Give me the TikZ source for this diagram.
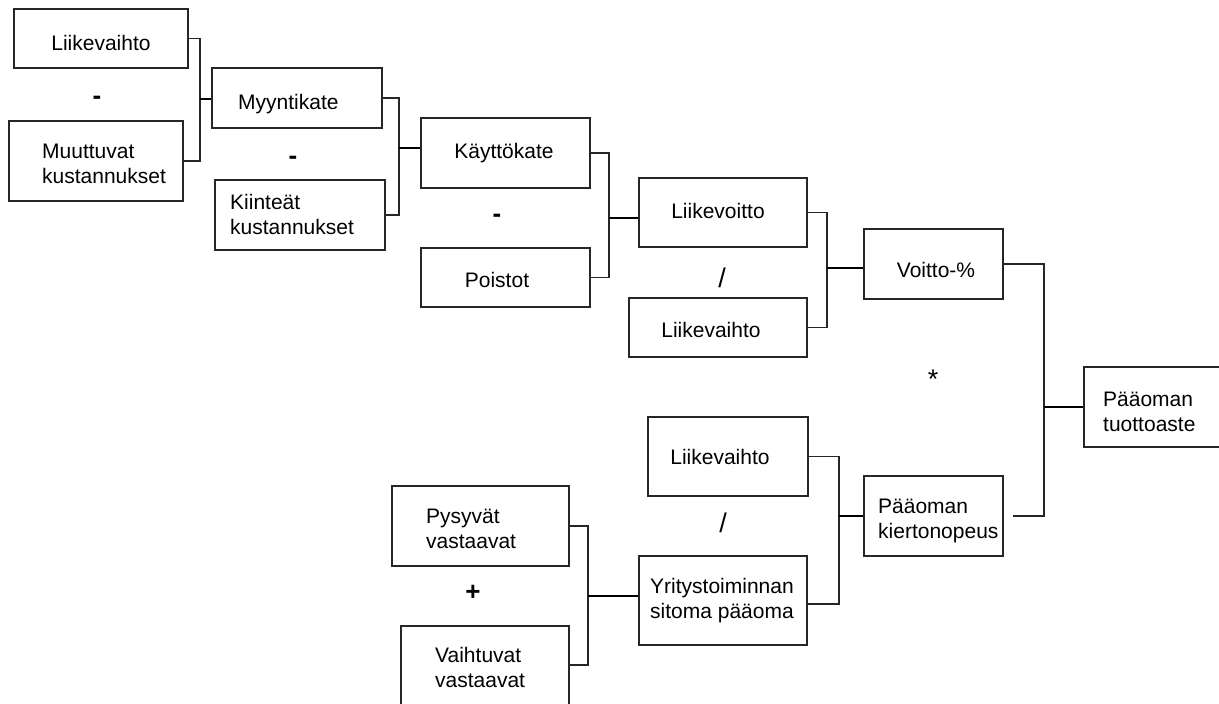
\documentclass[tikz,border=0pt]{standalone}
\usepackage{fontspec}
\setmainfont{Liberation Sans}
\begin{document}
\begin{tikzpicture}[x=1pt,y=-1pt,
  box/.style={draw=black!85,line width=1.2pt,rectangle,inner sep=0pt},
  txt/.style={inner sep=0pt,font=\fontsize{21}{25}\selectfont,align=left},
  ctxt/.style={inner sep=0pt,font=\fontsize{21}{25}\selectfont,align=center},
  op/.style={inner sep=0pt,font=\fontsize{26}{30}\selectfont\bfseries},
  opr/.style={inner sep=0pt,font=\fontsize{27}{30}\selectfont},
  conn/.style={draw=black!85,line width=1.1pt},
  stub/.style={draw=black,line width=2pt}]
\useasboundingbox (0,0) rectangle (1219,704);
\clip (0,0) rectangle (1219,704);
% boxes
\node[box,minimum width=174,minimum height=59] (lv1) at (101,38.5) {};
\node[box,minimum width=174,minimum height=80] (mk1) at (96,161) {};
\node[box,minimum width=170,minimum height=60] (myy) at (297,98) {};
\node[box,minimum width=170,minimum height=70] (kii) at (300,215) {};
\node[box,minimum width=169,minimum height=70] (kay) at (505.5,153) {};
\node[box,minimum width=169,minimum height=59] (poi) at (505.5,277.5) {};
\node[box,minimum width=168,minimum height=69] (lvo) at (723,212.5) {};
\node[box,minimum width=178,minimum height=59] (lv2) at (718,327.5) {};
\node[box,minimum width=139,minimum height=70] (voi) at (933.5,264) {};
\node[box,minimum width=156,minimum height=80] (tuo) at (1162,407) {};
\node[box,minimum width=139,minimum height=80] (kie) at (933.5,516) {};
\node[box,minimum width=160,minimum height=79] (lv3) at (728,456.5) {};
\node[box,minimum width=168,minimum height=89] (yri) at (723,600.5) {};
\node[box,minimum width=177,minimum height=80] (pys) at (480.5,526) {};
\node[box,minimum width=168,minimum height=114] (vai) at (485,683) {};
% texts (base anchor = baseline of the last line)
\node[ctxt,anchor=base] (t-lv1) at (101,50) {Liikevaihto};
\node[txt,anchor=base west] (t-mk1) at (42,183) {Muuttuvat\\kustannukset};
\node[txt,anchor=base west] (t-myy) at (238,109) {Myyntikate};
\node[txt,anchor=base west] (t-kii) at (230,234) {Kiinteät\\kustannukset};
\node[ctxt,anchor=base] (t-kay) at (504,158) {Käyttökate};
\node[ctxt,anchor=base] (t-poi) at (497,287) {Poistot};
\node[ctxt,anchor=base] (t-lvo) at (718,218) {Liikevoitto};
\node[ctxt,anchor=base] (t-lv2) at (711,337) {Liikevaihto};
\node[ctxt,anchor=base] (t-voi) at (936,277) {Voitto-\%};
\node[txt,anchor=base west] (t-tuo) at (1103,431) {Pääoman\\tuottoaste};
\node[txt,anchor=base west] (t-kie) at (878,538) {Pääoman\\kiertonopeus};
\node[ctxt,anchor=base] (t-lv3) at (720,464) {Liikevaihto};
\node[ctxt,anchor=base] (t-yri) at (722,618) {Yritystoiminnan\\sitoma pääoma};
\node[txt,anchor=base west] (t-pys) at (426,548) {Pysyvät\\vastaavat};
\node[txt,anchor=base west] (t-vai) at (435,687) {Vaihtuvat\\vastaavat};
% operators
\node[op] (o1) at (97,100) {-};
\node[op] (o2) at (293,160) {-};
\node[op] (o3) at (497,218) {-};
\node[opr] (o4) at (722,278) {/};
\node[opr] (o5) at (933,379) {*};
\node[opr] (o6) at (723,523) {/};
\node[op] (o7) at (473,593) {+};
% junction coordinates
\coordinate (jA) at (200,99);
\coordinate (jB) at (399,148);
\coordinate (jC) at (609,218);
\coordinate (jD) at (827,268);
\coordinate (jE) at (1044,407);
\coordinate (jF) at (839,516);
\coordinate (jG) at (588,596);
\coordinate (gbot) at (0,665);
% brackets
\draw[conn] (lv1.east) -| (jA) |- (mk1.east);
\draw[conn] (myy.east) -| (jB) |- (kii.east);
\draw[conn] (kay.east) -| (jC) |- (poi.east);
\draw[conn] (lvo.east) -| (jD) |- (lv2.east);
\draw[conn] (voi.east) -| (jE) |- ([xshift=9pt]kie.east);
\draw[conn] (lv3.east) -| (jF) |- ([yshift=-3.5pt]yri.east);
\draw[conn] (pys.east) -| (jG) |- (vai.east |- gbot);
% stubs
\draw[stub] (jA) -- (myy.west |- jA);
\draw[stub] (jB) -- (kay.west |- jB);
\draw[stub] (jC) -- (lvo.west |- jC);
\draw[stub] (jD) -- (voi.west |- jD);
\draw[stub] (jE) -- (tuo.west |- jE);
\draw[stub] (jF) -- (kie.west |- jF);
\draw[stub] (jG) -- (yri.west |- jG);
\end{tikzpicture}
\end{document}
